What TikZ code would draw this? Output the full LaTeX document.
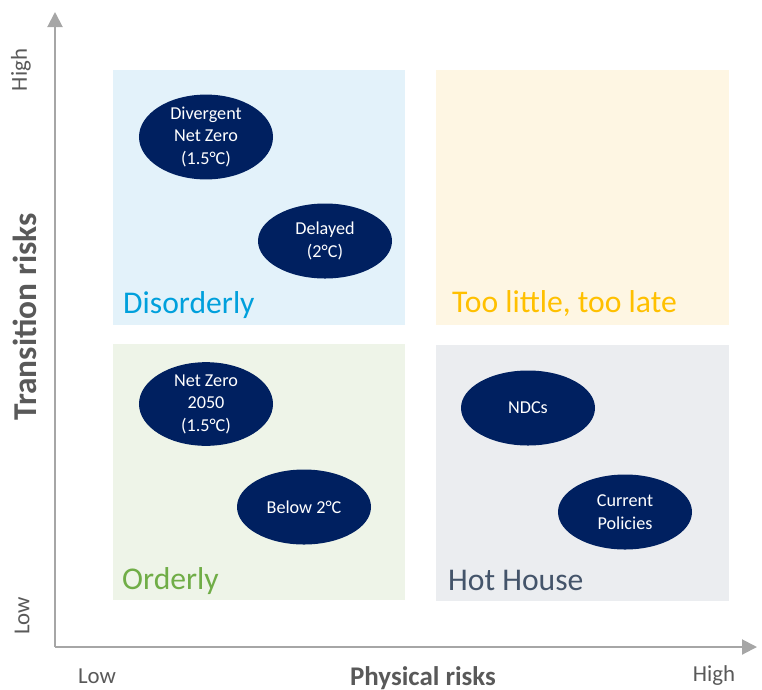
\documentclass[tikz,border=0pt]{standalone}
\usepackage{fontspec}
\setmainfont{Carlito}
\usetikzlibrary{shapes.geometric,arrows.meta}

\definecolor{navy}{HTML}{002060}
\definecolor{axisgray}{HTML}{A6A6A6}
\definecolor{labelgray}{HTML}{595959}
\definecolor{disfill}{HTML}{E3F2FA}
\definecolor{latefill}{HTML}{FEF6E3}
\definecolor{ordfill}{HTML}{EEF4E8}
\definecolor{hotfill}{HTML}{EBEDF0}
\definecolor{disblue}{HTML}{00A0DC}
\definecolor{lategold}{HTML}{FFC000}
\definecolor{ordgreen}{HTML}{70AD47}
\definecolor{hotslate}{HTML}{44546A}

\begin{document}
\begin{tikzpicture}[x=0.03cm, y=-0.03cm,
  scenario/.style = {shape=ellipse, fill=navy, text=white, align=center,
    minimum width=4.02cm, minimum height=2.25cm, inner sep=0pt,
    font=\fontsize{15.5}{19.2}\selectfont},
  quadlabel/.style = {anchor=base west, inner sep=0pt,
    font=\fontsize{27}{32}\selectfont},
  axis/.style = {draw=axisgray, line width=1.7pt,
    -{Triangle[length=0.45cm, width=0.45cm]}},
  ticklabel/.style = {text=labelgray, inner sep=0pt,
    font=\fontsize{19.5}{23}\selectfont},
  axislabel/.style = {text=labelgray, inner sep=0pt,
    font=\fontsize{23}{27}\selectfont\bfseries},
  ]
  \useasboundingbox (0,0) rectangle (762,689);

  % quadrants
  \fill[disfill]  (113,70)  rectangle (405,325);
  \fill[latefill] (436,70)  rectangle (729,325);
  \fill[ordfill]  (113,344) rectangle (405,600);
  \fill[hotfill]  (436,345) rectangle (729,601);

  \node[quadlabel, text=disblue]   (disorderly) at (123,313) {Disorderly};
  \node[quadlabel, text=lategold]  (toolate)    at (452,312) {Too little, too late};
  \node[quadlabel, text=ordgreen]  (orderly)    at (122,589) {Orderly};
  \node[quadlabel, text=hotslate]  (hothouse)   at (448,590) {Hot House};

  % scenarios
  \node[scenario] (divergent) at (206,137) {Divergent\\Net Zero\\(1.5°C)};
  \node[scenario] (delayed)   at (325,241) {Delayed\\(2°C)};
  \node[scenario] (netzero)   at (206,404) {Net Zero\\2050\\(1.5°C)};
  \node[scenario] (below)     at (304,507) {Below 2°C};
  \node[scenario] (ndcs)      at (528,408) {NDCs};
  \node[scenario] (current)   at (625,512) {Current\\Policies};

  % axes
  \coordinate (origin) at (55,647);
  \coordinate (ytip)   at (55,12);
  \coordinate (xtip)   at (757,647);
  \draw[axis] (origin) -- (ytip);
  \draw[axis] (origin) -- (xtip);

  \node[ticklabel, rotate=90] (yhigh) at (21,70)  {High};
  \node[ticklabel, rotate=90] (ylow)  at (22,616) {Low};
  \node[ticklabel] (xlow)  at (97,676)  {Low};
  \node[ticklabel] (xhigh) at (714,676) {High};
  \node[axislabel, rotate=90, font=\fontsize{28.5}{33}\selectfont\bfseries]
    (trisk) at (25,317) {Transition risks};
  \node[axislabel] (prisk) at (423,678) {Physical risks};
\end{tikzpicture}
\end{document}
